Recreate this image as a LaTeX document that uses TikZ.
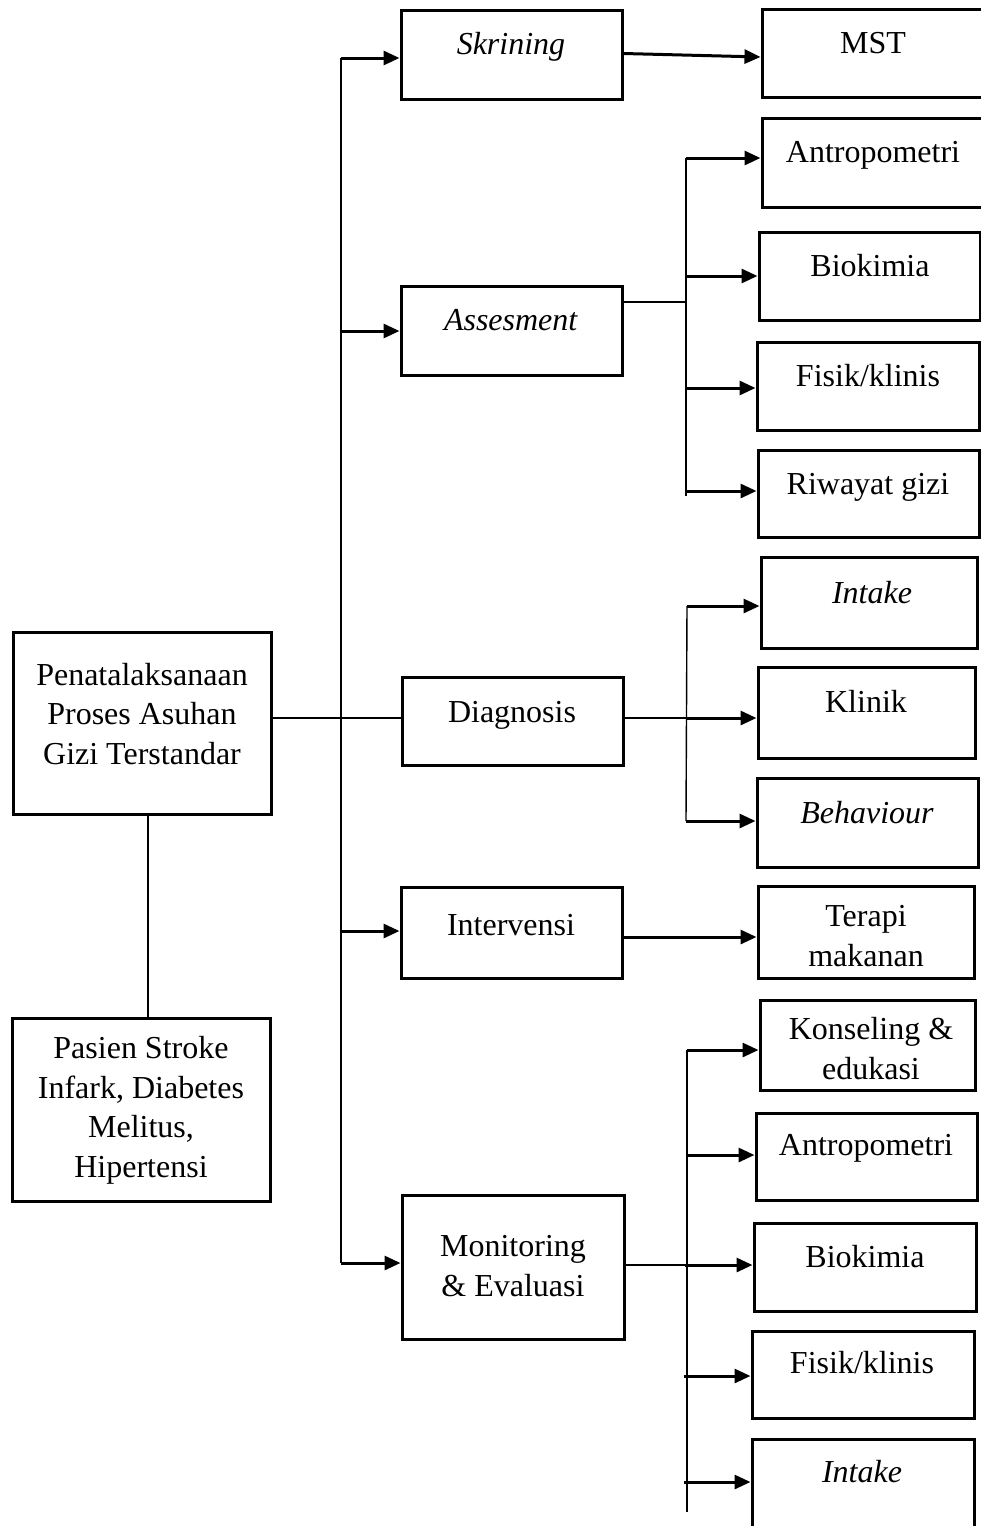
\documentclass[tikz,border=0pt]{standalone}
\usepackage{fontspec}
\setmainfont{Liberation Serif}
\usetikzlibrary{arrows.meta,fit}
\tikzset{
  box/.style={draw, line width=3pt, inner sep=0pt, fill=none},
  lbl/.style={inner sep=0pt, anchor=base, align=center, font=\fontsize{32}{39.5}\selectfont},
  conn/.style={draw, line width=1.4pt},
  arr/.style={draw, line width=3pt, -{Triangle[length=16pt,width=14pt]}},
}
\begin{document}
\begin{tikzpicture}[x=1pt,y=-1pt]
\useasboundingbox (0,0) rectangle (981,1526);
\clip (0,0) rectangle (981,1526);
% boxes
\node[box, fit={(13,632) (271,814)}] (pen) {};
\node[box, fit={(12,1018) (270,1201)}] (pas) {};
\node[box, fit={(401,10) (622,99)}] (sk) {};
\node[box, fit={(401,286) (622,375)}] (as) {};
\node[box, fit={(402,677) (623,765)}] (dg) {};
\node[box, fit={(401,887) (622,978)}] (iv) {};
\node[box, fit={(402,1195) (624,1339)}] (me) {};
\node[box, fit={(762,9) (990,97)}] (mst) {};
\node[box, fit={(762,118) (990,207)}] (an1) {};
\node[box, fit={(759,232) (980,320)}] (bk1) {};
\node[box, fit={(757,342) (979,430)}] (fk1) {};
\node[box, fit={(758,450) (979,537)}] (rg) {};
\node[box, fit={(761,557) (977,648)}] (in1) {};
\node[box, fit={(758,667) (975,758)}] (kl) {};
\node[box, fit={(757,778) (978,867)}] (bh) {};
\node[box, fit={(758,886) (974,978)}] (tm) {};
\node[box, fit={(760,1000) (975,1090)}] (ke) {};
\node[box, fit={(756,1113) (977,1200)}] (an2) {};
\node[box, fit={(754,1223) (976,1311)}] (bk2) {};
\node[box, fit={(752,1331) (974,1418)}] (fk2) {};
\node[box, fit={(752,1439) (974,1560)}] (in2) {};
% labels (anchor base = baseline of last line)
\node[lbl] (tpen) at (142,764) {Penatalaksanaan\\Proses Asuhan\\Gizi Terstandar};
\node[lbl] (tpas) at (141,1177) {Pasien Stroke\\Infark, Diabetes\\Melitus,\\Hipertensi};
\node[lbl] (tsk) at (511,54) {\textit{Skrining}};
\node[lbl] (tas) at (511,330) {\textit{Assesment}};
\node[lbl] (tdg) at (512,722) {Diagnosis};
\node[lbl] (tiv) at (511,935) {Intervensi};
\node[lbl] (tme) at (513,1296) {Monitoring\\\&~Evaluasi};
\node[lbl] (tmst) at (873,53) {MST};
\node[lbl] (tan1) at (873,162) {Antropometri};
\node[lbl] (tbk1) at (870,276) {Biokimia};
\node[lbl] (tfk1) at (868,386) {Fisik/klinis};
\node[lbl] (trg) at (868,494) {Riwayat gizi};
\node[lbl] (tin1) at (872,603) {\textit{Intake}};
\node[lbl] (tkl) at (866,712) {Klinik};
\node[lbl] (tbh) at (867,823) {\textit{Behaviour}};
\node[lbl] (ttm) at (866,966) {Terapi\\makanan};
\node[lbl] (tke) at (871,1079) {Konseling \&\\edukasi};
\node[lbl] (tan2) at (866,1155) {Antropometri};
\node[lbl] (tbk2) at (865,1267) {Biokimia};
\node[lbl] (tfk2) at (862,1373) {Fisik/klinis};
\node[lbl] (tin2) at (862,1482) {\textit{Intake}};
% junction coordinates
\coordinate (t1) at (341,58);
\coordinate (t2) at (341,331);
\coordinate (t4) at (341,931);
\coordinate (t5) at (341,1263);
\coordinate (pj) at (148,814);
\coordinate (aj) at (686,302);
\coordinate (a1) at (686,158);
\coordinate (a2) at (686,276);
\coordinate (a3) at (686,388);
\coordinate (a4) at (686,491);
\coordinate (a5) at (686,496);
\coordinate (dj) at (686,718);
\coordinate (d1) at (687,606);
\coordinate (d3) at (686,821);
\coordinate (mj) at (686,1265);
\coordinate (m1) at (687,1050);
\coordinate (m2) at (687,1155);
\coordinate (m3) at (685,1265);
\coordinate (m4) at (684,1376);
\coordinate (m5) at (684,1482);
\coordinate (mb) at (687,1512);
% trunk and thin connectors
\draw[conn] (t1) -- (t5);
\draw[conn] (pen.east |- dj) -- (dg.west |- dj);
\draw[conn] (pj) -- (pas.north -| pj);
\draw[conn] (as.east |- aj) -- (aj);
\draw[conn] (a1) -- (a5);
\draw[conn] (dg.east |- dj) -- (dj);
\draw[conn] (d1) -- (d3);
\draw[conn] (me.east |- mj) -- (mj);
\draw[conn] (m1) -- (mb);
% arrows
\draw[arr] (t1) -- (sk.west |- t1);
\draw[arr] (t2) -- (as.west |- t2);
\draw[arr] (t4) -- (iv.west |- t4);
\draw[arr] (t5) -- (me.west |- t5);
\draw[arr] ([yshift=1pt]sk.east) -- ([yshift=-4pt]mst.west);
\draw[arr] (iv.east |- 0,937) -- (tm.west |- 0,937);
\draw[arr] (a1) -- (an1.west |- a1);
\draw[arr] (a2) -- (bk1.west |- a2);
\draw[arr] (a3) -- (fk1.west |- a3);
\draw[arr] (a4) -- (rg.west |- a4);
\draw[arr] (d1) -- (in1.west |- d1);
\draw[arr] (dj) -- (kl.west |- dj);
\draw[arr] (d3) -- (bh.west |- d3);
\draw[arr] (m1) -- (ke.west |- m1);
\draw[arr] (m2) -- (an2.west |- m2);
\draw[arr] (m3) -- (bk2.west |- m3);
\draw[arr] (m4) -- (fk2.west |- m4);
\draw[arr] (m5) -- (in2.west |- m5);
\end{tikzpicture}
\end{document}
